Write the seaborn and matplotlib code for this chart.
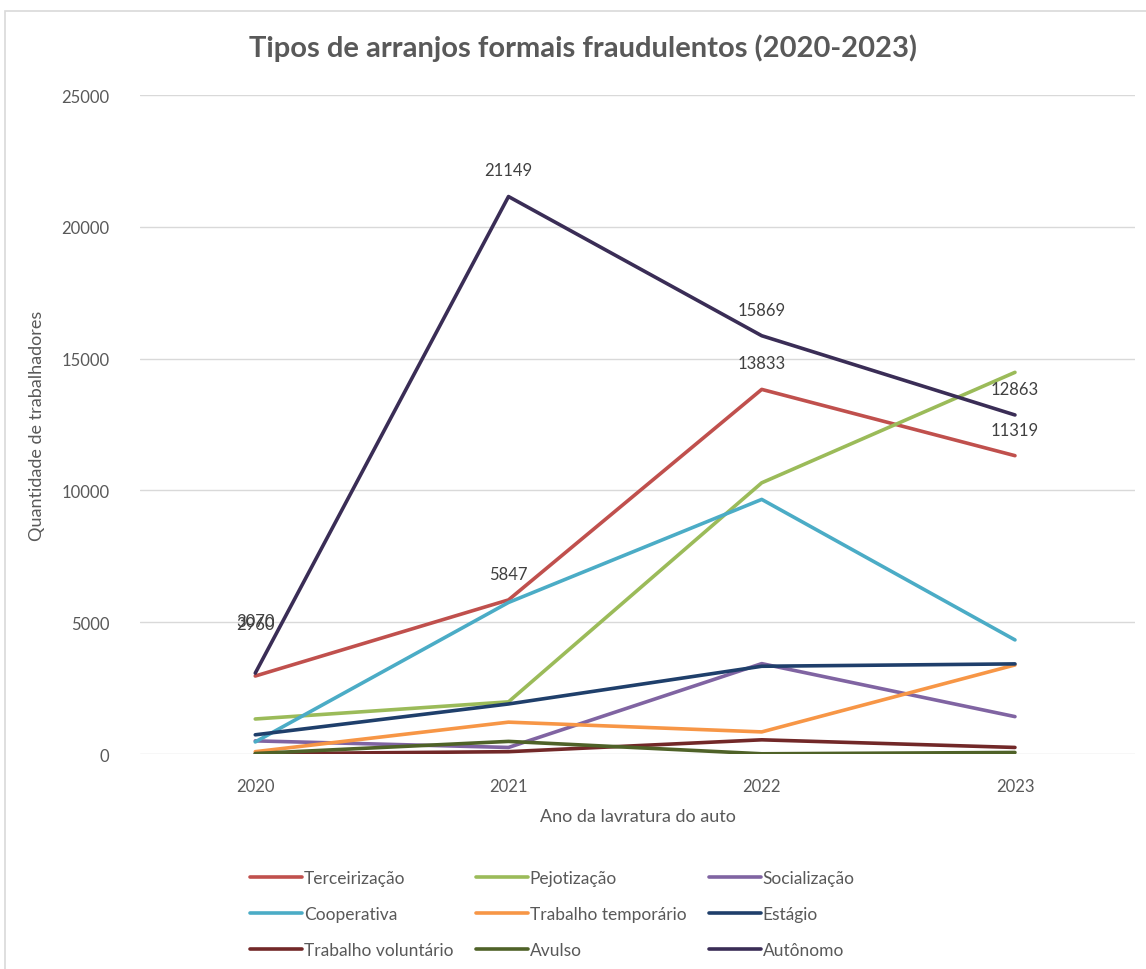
import pandas as pd
import matplotlib.pyplot as plt
import seaborn as sns
from matplotlib.patches import Rectangle

# Dados
anos = [2020, 2021, 2022, 2023]
tipos = ['Terceirização', 'Pejotização', 'Socialização',
         'Cooperativa', 'Trabalho temporário', 'Estágio',
         'Trabalho voluntário', 'Avulso', 'Autônomo']

terceirizacao = [2960, 5847, 13833, 11319]
pejotizacao = [1330, 1980, 10290, 14480]
socializacao = [500, 250, 3430, 1420]
cooperativa = [460, 5750, 9660, 4330]
trabalho_temporario = [90, 1210, 840, 3380]
estagio = [730, 1900, 3330, 3420]
trabalho_voluntario = [10, 90, 540, 250]
avulso = [20, 480, 10, 60]
autonomo = [3070, 21149, 15869, 12863]

cores = ['#C0504D', '#9BBB59', '#8064A2',
         '#4BACC6', '#F79646', '#1F3F6B',
         '#722828', '#4F6228', '#3A2D56']

series = [terceirizacao, pejotizacao, socializacao, cooperativa,
          trabalho_temporario, estagio, trabalho_voluntario, avulso, autonomo]

df = pd.DataFrame({
    'ano': anos * len(tipos),
    'valor': [v for s in series for v in s],
    'tipo': [t for t in tipos for _ in anos],
})

sns.set_style('white')
plt.rcParams['font.family'] = ['Lato', 'DejaVu Sans']
cinza = '#595959'

fig = plt.figure(figsize=(11.46, 9.7), dpi=100)
ax = fig.add_axes([0.1222, 0.2216, 0.8682, 0.6794])

sns.lineplot(data=df, x='ano', y='valor', hue='tipo', hue_order=tipos,
             palette=cores, linewidth=2.6, ax=ax, sort=False)

# rótulos de dados (Terceirização e Autônomo)
for s in [terceirizacao, autonomo]:
    for x, v in zip(anos, s):
        dy = 32 if x == 2020 else 13  # no Excel os rótulos de 2020 ficaram mais altos
        ax.annotate(str(v), (x, v), xytext=(0, dy), textcoords='offset points',
                    ha='center', va='bottom', fontsize=12, color='#404040')

ax.set_xlim(2020 - 0.455, 2023 + 0.474)
ax.set_ylim(0, 25000)
ax.set_yticks(range(0, 25001, 5000))
ax.set_xticks(anos)
ax.grid(axis='y', color='#D9D9D9', linewidth=1)
ax.set_axisbelow(True)
sns.despine(ax=ax, left=True, bottom=True, top=True, right=True)
ax.tick_params(axis='both', length=0, labelsize=12, labelcolor=cinza)
ax.tick_params(axis='x', pad=17)
ax.tick_params(axis='y', pad=22)

ax.set_xlabel('Ano da lavratura do auto', fontsize=13, color=cinza, labelpad=10)
ax.set_ylabel('Quantidade de trabalhadores', fontsize=13, color=cinza, labelpad=12)
fig.text(0.509, 0.95, 'Tipos de arranjos formais fraudulentos (2020-2023)',
         ha='center', va='center', fontsize=21, fontweight='bold', color=cinza)

handles, labels = ax.get_legend_handles_labels()
ax.get_legend().remove()
ordem = [0, 3, 6, 1, 4, 7, 2, 5, 8]
leg = fig.legend([handles[i] for i in ordem], [labels[i] for i in ordem],
                 ncol=3, loc='upper left', bbox_to_anchor=(0.218, 0.102),
                 frameon=False, fontsize=12.5, handlelength=3.0,
                 handletextpad=0.1, columnspacing=1.3, labelspacing=1.15,
                 borderaxespad=0, borderpad=0)
for t in leg.get_texts():
    t.set_color(cinza)

fig.patches.append(Rectangle((0.004, -0.01), 1.0, 0.998, transform=fig.transFigure,
                             fill=False, edgecolor='#D9D9D9', linewidth=1.2))

fig.savefig('out.png', dpi=100)
